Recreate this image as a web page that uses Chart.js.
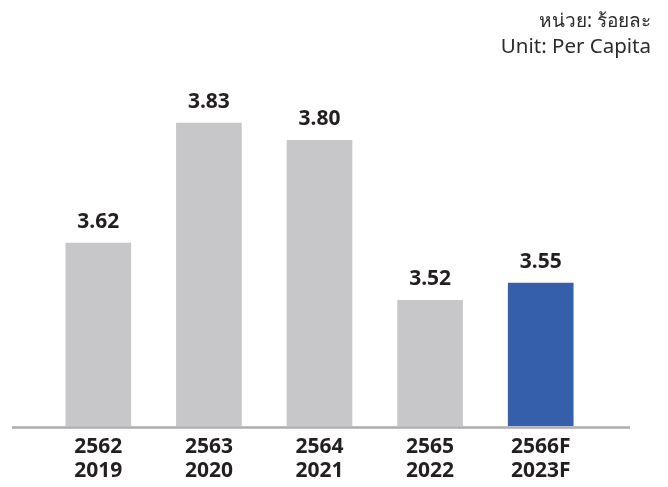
<!DOCTYPE html>
<html>
<head>
<meta charset="utf-8">
<script src="https://cdn.jsdelivr.net/npm/chart.js@4"></script>
<style>
  html, body { margin: 0; padding: 0; background: #fff; }
  #wrap { position: relative; width: 668px; height: 487px; }
  #unit {
    position: absolute; right: 17px; top: 7px; text-align: right;
    font-family: "Noto Sans", sans-serif; font-size: 20.5px;
    line-height: 25px; color: #2b2b2b;
  }
  #unit .th { font-size: 19px; }
</style>
</head>
<body>
<div id="wrap">
  <canvas id="chart" width="668" height="487"></canvas>
  <div id="unit"><span class="th">หน่วย: ร้อยละ</span><br>Unit: Per Capita</div>
</div>
<script>
const thaiYears = ["2562", "2563", "2564", "2565", "2566F"];
const years = ["2019", "2020", "2021", "2022", "2023F"];
const values = [3.62, 3.83, 3.80, 3.52, 3.55];
const barColors = ["#c7c7c9", "#c7c7c9", "#c7c7c9", "#c7c7c9", "#365fab"];

const labels = thaiYears.map((t, i) => [t, years[i]]);

const valueLabels = {
    id: "valueLabels",
    afterDatasetsDraw(chart) {
        const ctx = chart.ctx;
        const meta = chart.getDatasetMeta(0);
        ctx.save();
        ctx.font = "bold 21px 'Noto Sans', sans-serif";
        ctx.fillStyle = "#231f20";
        ctx.textAlign = "center";
        ctx.textBaseline = "middle";
        meta.data.forEach((bar, i) => {
            ctx.fillText(values[i].toFixed(2), bar.x, bar.y - 21);
        });
        ctx.restore();
    }
};

const baseLine = {
    id: "baseLine",
    afterDatasetsDraw(chart) {
        const ctx = chart.ctx;
        const y = chart.chartArea.bottom + 1.5;
        ctx.save();
        ctx.strokeStyle = "#acacae";
        ctx.lineWidth = 2.5;
        ctx.beginPath();
        ctx.moveTo(12, y);
        ctx.lineTo(630, y);
        ctx.stroke();
        ctx.restore();
    }
};

new Chart(document.getElementById("chart"), {
    type: "bar",
    data: {
        labels: labels,
        datasets: [{
            data: values,
            backgroundColor: barColors,
            borderWidth: 0,
            barThickness: 65
        }]
    },
    options: {
        responsive: false,
        animation: false,
        layout: { padding: { left: 43, right: 72, top: 26, bottom: 0 } },
        plugins: {
            legend: { display: false },
            tooltip: { enabled: false }
        },
        scales: {
            y: {
                display: false,
                min: 3.3,
                max: 4.0
            },
            x: {
                grid: { display: false, drawTicks: false },
                border: { display: false },
                ticks: {
                    color: "#231f20",
                    padding: 9,
                    font: { family: "'Noto Sans', sans-serif", size: 21, weight: "bold", lineHeight: 24 / 21 }
                },
                afterFit(scale) { scale.height = 61; }
            }
        }
    },
    plugins: [valueLabels, baseLine]
});
</script>
</body>
</html>
